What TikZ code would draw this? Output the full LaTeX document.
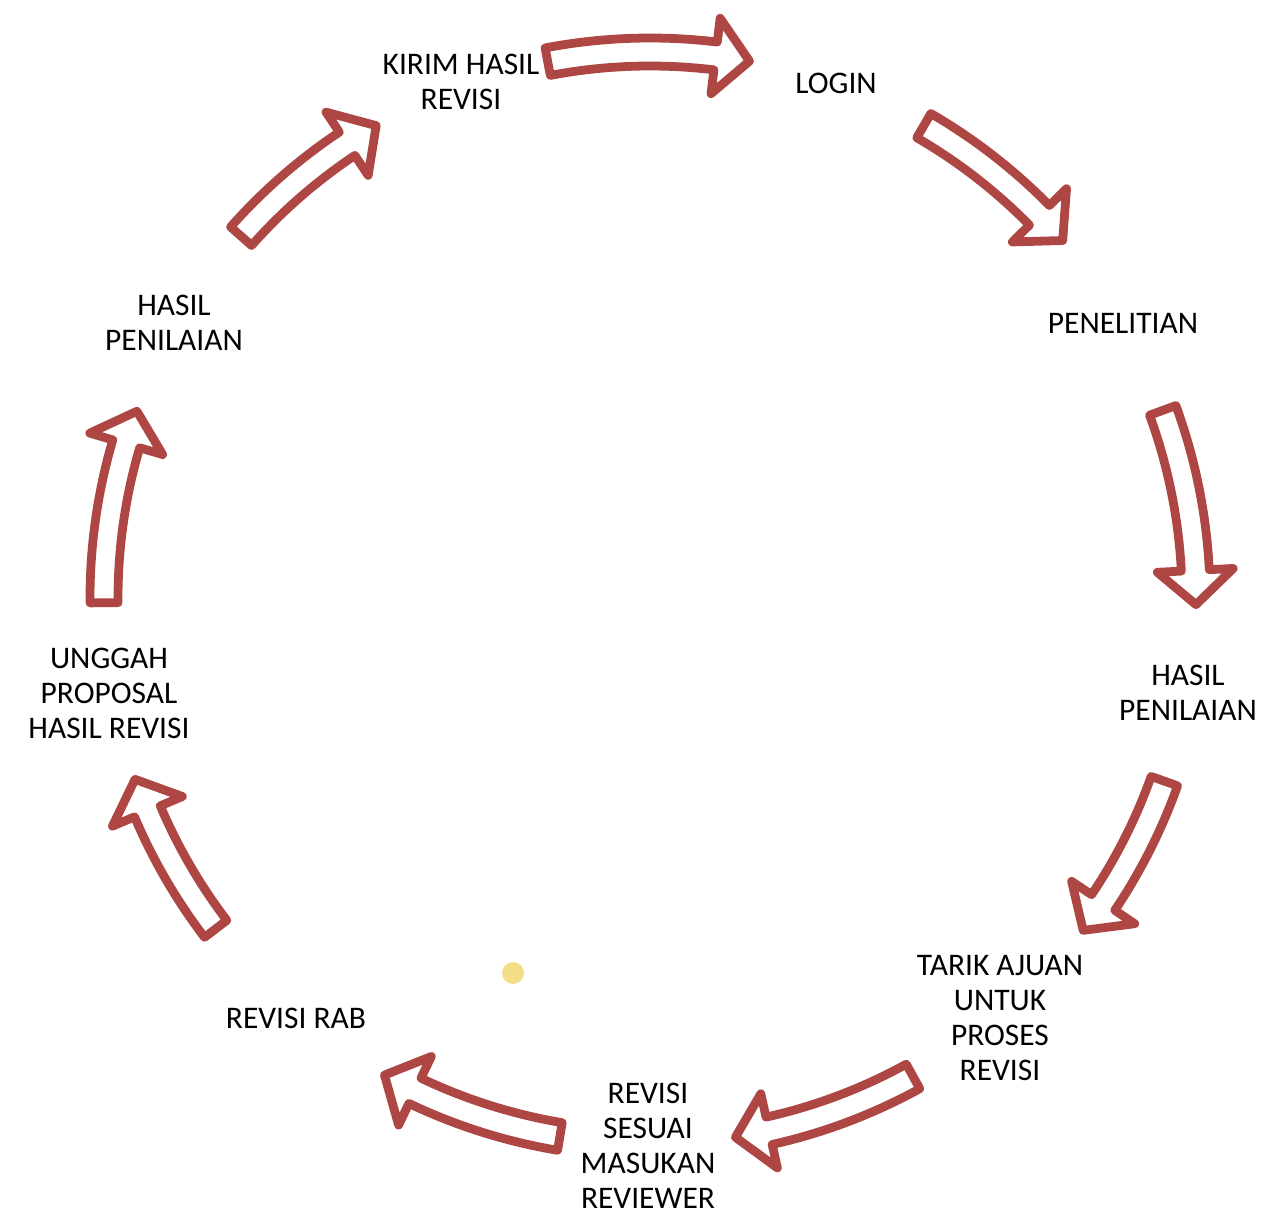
\documentclass[tikz,border=0pt]{standalone}
\usepackage{fontspec}
\setmainfont{Carlito}
\definecolor{arrowred}{RGB}{174,70,68}
\definecolor{dotyellow}{RGB}{243,222,135}

\begin{document}
\begin{tikzpicture}[x=0.02cm, y=0.02cm, every node/.style={align=center, font=\fontsize{17.9}{19.9}\selectfont}, ringarrow/.style={draw=arrowred, fill=white, line width=5pt, line join=round}]
                \useasboundingbox (0,0) rectangle (1268,1215);
                \coordinate (O) at (650,617);
                % steps round the ring
                \node (kirim) at (461,1133) {KIRIM HASIL\\REVISI};
                \node (login) at (836,1132) {LOGIN};
                \node (penelitian) at (1123,892) {PENELITIAN};
                \node (hasilkanan) at (1188,522) {HASIL\\PENILAIAN};
                \node (tarik) at (1000,197) {TARIK AJUAN\\UNTUK\\PROSES\\REVISI};
                \node (sesuai) at (648,69) {REVISI\\SESUAI\\MASUKAN\\REVIEWER};
                \node (rab) at (296,197) {REVISI RAB};
                \node (unggah) at (109,522) {UNGGAH\\PROPOSAL\\HASIL REVISI};
                \node (hasilkiri) at (174,892) {HASIL\\PENILAIAN};
                % block arrows, tail angle / tip angle
                \foreach \a/\b in {100.8/79.5, 59.9/40.9, 20.1/-0.7, -19.6/-37.5, -61.2/-81.0, -99.5/-119.1, -142.7/-160.6, 180.5/160.0, 138.5/120.1} {
                    \pgfmathsetmacro{\h}{\b+3.6}
                    \draw[ringarrow, shift={(O)}] (\a:560) arc[start angle=\a, end angle=\h, radius=560] -- (\h:584) -- (\b:546) -- (\h:508) -- (\h:532) arc[start angle=\h, end angle=\a, radius=532] -- cycle;
                }
                \fill[dotyellow] (513,242) circle[radius=11];
                \end{tikzpicture}
\end{document}
